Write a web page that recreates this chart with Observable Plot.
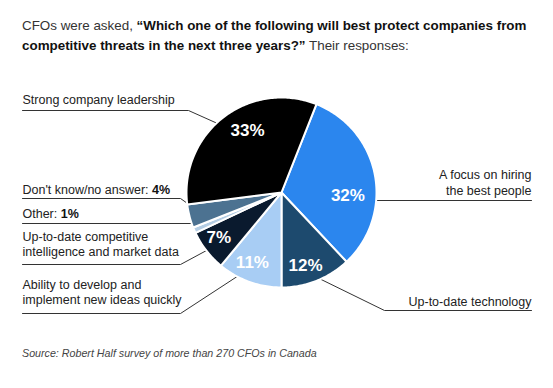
<!DOCTYPE html>
<html><head><meta charset="utf-8">
<script src="https://cdn.jsdelivr.net/npm/d3@7"></script>
<script src="https://cdn.jsdelivr.net/npm/@observablehq/plot@0.6"></script>
<style>
body{margin:0;background:#fff;font-family:"Liberation Sans",Arial,sans-serif;}
#wrap{position:relative;width:553px;height:388px;overflow:hidden;background:#fff}
#title{position:absolute;left:22px;top:16px;width:528px;font-size:13.4px;line-height:20px;color:#333}
#title b{color:#111}
#chart{position:absolute;left:0;top:62px}
#source{position:absolute;left:22px;top:347px;font-size:10.7px;font-style:italic;color:#444}
</style></head>
<body><div id="wrap">
<div id="title">CFOs were asked, <b>“Which one of the following will best protect companies from competitive threats in the next three years?”</b> Their responses:</div>
<div id="chart"></div>
<div id="source">Source: Robert Half survey of more than 270 CFOs in Canada</div>
</div>
<script>
// ---- data ----
const categories = ["A focus on hiring the best people", "Up-to-date technology", "Ability to develop and implement new ideas quickly", "Up-to-date competitive intelligence and market data", "Other", "Don't know/no answer", "Strong company leadership"];
const values = [32, 12, 11, 7, 1, 4, 33];
const colors = ["#2b86ee", "#1d4a6e", "#a8cdf4", "#0a1a2e", "#b4cde4", "#4c7291", "#000000"];
const labelLines = [["A focus on hiring", "the best people"], ["Up-to-date technology"], ["Ability to develop and", "implement new ideas quickly"], ["Up-to-date competitive", "intelligence and market data"], ["Other:"], ["Don't know/no answer:"], ["Strong company leadership"]];
const valueInLabel = [false, false, false, false, true, true, false];
const valueInSlice = [true, true, true, true, false, false, true];

// ---- layout (page pixels) ----
const W = 553, TOP = 62, H = 283;
const CX = 281, CY = 192, R = 95, START_DEG = 21.6;
const pctTweak = [[13.4, 0.70], [3.4, 0.81], [2.7, 0.80], [2.3, 0.81], [0, 0], [0, 0], [9.1, 0.745]]; // [deg offset, radius frac]
const labelLayout = [
  {x: 531, anchor: "end", base: [178, 194], lineY: 200, elbowX: null, endX: 531, da: 16, r: 0.92},
  {x: 531, anchor: "end", base: [305], lineY: 310, elbowX: 384, endX: 531, da: 0.5, r: 0.94},
  {x: 22, anchor: "start", base: [288, 303], lineY: 313, elbowX: 180, endX: 22, da: 5.6, r: 0.93},
  {x: 22, anchor: "start", base: [240, 255], lineY: 264, elbowX: 180, endX: 22, da: 0, r: 0.99},
  {x: 22, anchor: "start", base: [217], lineY: 223, elbowX: 195, endX: 22, da: 0, r: 0.88},
  {x: 22, anchor: "start", base: [193], lineY: 198, elbowX: 180, endX: 22, da: 2, r: 0.9},
  {x: 22, anchor: "start", base: [103], lineY: 110, elbowX: 188, endX: 22, da: -5.5, r: 1.01}
];
const FONT = '"Liberation Sans", Arial, sans-serif';
const LABEL_SIZE = 12.5;

// ---- derived geometry ----
const rad = Math.PI / 180;
const arcs = d3.pie().sort(null).startAngle(START_DEG * rad).endAngle(START_DEG * rad + 2 * Math.PI)(values);
const pt = (a, r) => [CX + r * Math.sin(a), CY - r * Math.cos(a)];

const slicePts = [];
arcs.forEach((arc, i) => {
  slicePts.push({name: categories[i], color: colors[i], x: CX, y: CY});
  const n = Math.max(2, Math.ceil((arc.endAngle - arc.startAngle) / rad));
  for (let k = 0; k <= n; k++) {
    const a = arc.startAngle + (arc.endAngle - arc.startAngle) * k / n;
    const [x, y] = pt(a, R);
    slicePts.push({name: categories[i], color: colors[i], x, y});
  }
});

const pctLabels = arcs.map((arc, i) => {
  const mid = (arc.startAngle + arc.endAngle) / 2 + pctTweak[i][0] * rad;
  const [x, y] = pt(mid, R * pctTweak[i][1]);
  return {show: valueInSlice[i], text: values[i] + "%", x, y};
}).filter(d => d.show);

const leaderPts = [];
arcs.forEach((arc, i) => {
  const L = labelLayout[i];
  const mid = (arc.startAngle + arc.endAngle) / 2 + L.da * rad;
  const [ax, ay] = pt(mid, R * L.r);
  const ex = L.elbowX == null ? ax : L.elbowX;
  [[ax, ay], [ex, L.lineY], [L.endX, L.lineY]].forEach(([x, y]) => leaderPts.push({name: categories[i], x, y}));
});

const ctx = document.createElement("canvas").getContext("2d");
const textRows = [], boldRows = [];
labelLines.forEach((lines, i) => {
  const L = labelLayout[i];
  lines.forEach((t, j) => {
    textRows.push({text: t, x: L.x, y: L.base[j], anchor: L.anchor});
    if (valueInLabel[i] && j === lines.length - 1) {
      ctx.font = `${LABEL_SIZE}px ${FONT}`;
      const w = ctx.measureText(t + " ").width;
      boldRows.push({text: values[i] + "%", x: L.x + w, y: L.base[j]});
    }
  });
});

const chart = Plot.plot({
  width: W, height: H,
  margin: 0,
  x: {domain: [0, W], range: [0, W], axis: null},
  y: {domain: [TOP, TOP + H], range: [0, H], axis: null},
  color: {type: "identity"},
  style: {fontFamily: FONT, background: "transparent"},
  marks: [
    Plot.line(leaderPts, {x: "x", y: "y", z: "name", stroke: "#333", strokeWidth: 1}),
    Plot.line(slicePts, {x: "x", y: "y", z: "name", fill: "color", stroke: "white", strokeWidth: 2, strokeLinejoin: "round", curve: "linear-closed"}),
    Plot.text(pctLabels, {x: "x", y: "y", text: "text", fill: "white", fontWeight: "bold", fontSize: 17}),
    Plot.text(textRows.filter(d => d.anchor === "start"), {x: "x", y: "y", text: "text", textAnchor: "start", lineAnchor: "bottom", fill: "#222", fontSize: LABEL_SIZE}),
    Plot.text(textRows.filter(d => d.anchor === "end"), {x: "x", y: "y", text: "text", textAnchor: "end", lineAnchor: "bottom", fill: "#222", fontSize: LABEL_SIZE}),
    Plot.text(boldRows, {x: "x", y: "y", text: "text", textAnchor: "start", lineAnchor: "bottom", fill: "#111", fontWeight: "bold", fontSize: LABEL_SIZE})
  ]
});
document.getElementById("chart").appendChild(chart);
</script>
</body></html>
